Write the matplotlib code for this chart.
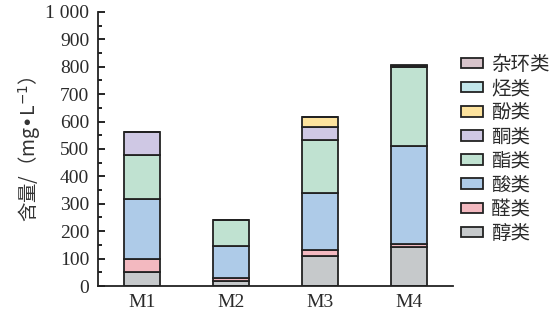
import numpy as np
import matplotlib
matplotlib.use('Agg')
import matplotlib.pyplot as plt
from matplotlib.ticker import MultipleLocator, FuncFormatter

plt.rcParams["font.family"] = ["Liberation Serif", "Noto Sans CJK SC", "DejaVu Sans"]
plt.rcParams["text.color"] = "#2a2a2a"
plt.rcParams["xtick.labelcolor"] = "#2a2a2a"
plt.rcParams["ytick.labelcolor"] = "#2a2a2a"

samples = ["M1", "M2", "M3", "M4"]
classes = ["醇类", "醛类", "酸类", "酯类", "酮类", "酚类", "烃类", "杂环类"]
colors = ["#c6c9cb", "#f3b9c0", "#aecbe8", "#c0e2d1", "#cfc8e4", "#fde39e", "#c2e6ea", "#d8c4cb"]

alcohols = [50, 18, 111, 142]
aldehydes = [50, 10, 22, 10]
acids = [218, 118, 208, 358]
esters = [160, 94, 192, 290]
ketones = [84, 0, 48, 0]
phenols = [0, 0, 36, 0]
hydrocarbons = [0, 0, 0, 2]
heterocycles = [1, 0, 0, 3]
series = [alcohols, aldehydes, acids, esters, ketones, phenols, hydrocarbons, heterocycles]

fig = plt.figure(figsize=(5.52, 3.21), dpi=100)
ax = fig.add_axes([0.177, 0.109, 0.644, 0.854])

x = np.arange(len(samples))
bottom = np.zeros(len(samples))
handles = []
for name, vals, col in zip(classes, series, colors):
    vals = np.array(vals, dtype=float)
    h = ax.bar(x, vals, width=0.4, bottom=bottom, color=col, edgecolor="#222222",
               linewidth=1.3, label=name)
    handles.append(h)
    bottom += vals

ax.set_xlim(-0.5, 3.5)
ax.set_ylim(0, 1000)
ax.set_xticks(x)
ax.set_xticklabels(samples, fontsize=14)
ax.tick_params(axis="x", length=0, pad=6)
ax.yaxis.set_major_locator(MultipleLocator(100))
ax.yaxis.set_minor_locator(MultipleLocator(50))
ax.yaxis.set_major_formatter(FuncFormatter(lambda v, p: "1 000" if v == 1000 else f"{int(v)}"))
ax.tick_params(axis="y", which="major", direction="in", length=5, width=1.2, labelsize=14, pad=6)
ax.tick_params(axis="y", which="minor", direction="in", length=3, width=1.2)
for s in ["top", "right"]:
    ax.spines[s].set_visible(False)
for s in ["left", "bottom"]:
    ax.spines[s].set_linewidth(1.3)
    ax.spines[s].set_color("#222222")

ax.set_ylabel("含量/（mg•L$^{-1}$）", fontsize=14, family=["Noto Sans CJK SC", "DejaVu Sans"],
              labelpad=2, color="#333333")

leg = ax.legend(handles[::-1], classes[::-1], loc="upper left", bbox_to_anchor=(0.817, 0.862),
                bbox_transform=fig.transFigure, frameon=False, borderpad=0,
                prop={"family": ["Noto Sans CJK SC"], "size": 14},
                handlelength=1.15, handleheight=0.45, handletextpad=0.4, labelspacing=0.16)

fig.savefig("out.png", dpi=100)
